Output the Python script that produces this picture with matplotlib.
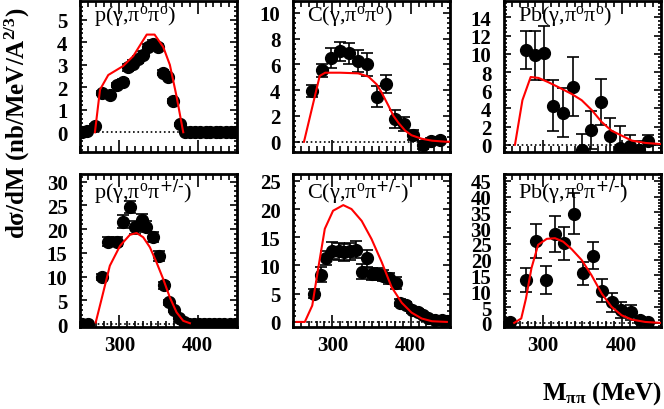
import matplotlib
matplotlib.use("Agg")
import matplotlib.pyplot as plt
from matplotlib.ticker import MultipleLocator, AutoMinorLocator

plt.rcParams["font.family"] = ["Liberation Serif", "DejaVu Serif"]
plt.rcParams["mathtext.default"] = "regular"

## data (M_pipi in MeV)
# p(g,pi0 pi0)
p00_x = [252, 259, 269, 277.5, 288, 296.5, 305, 311.5, 318, 324, 330.5, 337, 343, 349.5,
         356, 362, 368.5, 377, 383.5, 390, 397, 403, 410, 416, 423, 429, 436, 442, 448]
p00_y = [0.0, 0.05, 0.3, 1.75, 1.65, 2.1, 2.25, 2.9, 3.05, 3.25, 3.45, 3.8, 3.95, 3.8,
         2.65, 2.45, 1.4, 0.35, 0.0, 0, 0, 0, 0, 0, 0, 0, 0, 0, 0]
p00_err = [0.05, 0.05, 0.08, 0.1, 0.1, 0.1, 0.12, 0.15, 0.15, 0.15, 0.15, 0.15, 0.15, 0.15,
           0.12, 0.1, 0.1, 0.08, 0.05, 0, 0, 0, 0, 0, 0, 0, 0, 0, 0]
p00_cx = [269, 275.5, 286, 305, 318, 335, 345, 356, 364.5, 373, 381.5]
p00_cy = [0, 1.9, 2.55, 2.95, 3.4, 4.35, 4.35, 3.8, 3.0, 1.6, 0]

# C(g,pi0 pi0)
c00_x = [274.5, 286.5, 298, 310, 321.5, 333, 344.5, 356.5, 368, 380, 391.5, 402.5, 415, 426, 437.5]
c00_y = [3.95, 5.55, 6.5, 7.0, 6.85, 6.25, 6.0, 3.5, 4.45, 1.75, 1.4, 0.5, -0.25, 0.05, 0.15]
c00_err = [0.45, 0.5, 0.8, 0.75, 0.8, 0.85, 0.9, 0.8, 0.7, 0.7, 0.55, 0.4, 0.3, 0.25, 0.25]
c00_cx = [264, 284, 291, 310, 333, 346, 356.5, 363, 371.5, 378, 384.5, 393, 401, 414, 427, 444, 452]
c00_cy = [0, 5.1, 5.35, 5.35, 5.3, 5.05, 4.45, 3.8, 2.8, 2.0, 1.45, 0.85, 0.5, 0.23, 0.08, 0.0, 0.0]

# Pb(g,pi0 pi0)
pb00_x = [277.5, 289.5, 301.5, 313, 325.5, 337.5, 350, 361.5, 373.5, 385, 398, 410, 421.5, 434]
pb00_y = [10.4, 9.85, 10.1, 4.3, 3.5, 6.4, -0.55, 1.65, 4.7, 1.0, -0.4, -0.1, -0.55, 0.45]
pb00_err = [2.1, 2.7, 3.0, 2.8, 2.7, 3.2, 1.7, 2.1, 2.5, 1.9, 2.5, 1.2, 1.0, 0.6]
pb00_cx = [264, 273.5, 284, 294, 306, 319, 336, 349, 362, 374.5, 387, 400, 413, 430, 451]
pb00_cy = [0, 4.9, 7.45, 7.35, 6.9, 6.35, 5.6, 4.9, 3.8, 2.5, 1.55, 1.0, 0.45, 0.2, 0.07]

# p(g,pi0 pi+/-)
ppm_x = [252, 260, 278.5, 286, 296.5, 305, 313.5, 320, 328.5, 334.5, 343, 351, 357, 363,
         369.5, 376, 382, 388.5, 395, 401.5, 408, 414.5, 421, 427.5, 434, 440.5, 447]
ppm_y = [0, 0, 10.0, 17.4, 17.4, 21.6, 24.6, 20.4, 21.9, 20.5, 18.4, 14.4, 8.2, 4.6,
         3.0, 1.4, 0.35, 0, 0, 0, 0, 0, 0, 0, 0, 0, 0]
ppm_err = [0.3, 0.3, 0.6, 1.0, 1.0, 1.3, 1.3, 1.4, 1.3, 1.2, 1.0, 1.0, 0.7, 0.5,
           0.4, 0.3, 0.2, 0, 0, 0, 0, 0, 0, 0, 0, 0, 0]
ppm_cx = [270, 277.5, 288, 301, 313.5, 322, 330.5, 339, 347.5, 356, 364.5, 373, 381.5, 390]
ppm_cy = [0.35, 5.3, 12.3, 16.5, 18.8, 19.2, 18.3, 16.2, 13.0, 9.5, 5.6, 2.5, 0.7, 0.2]

# C(g,pi0 pi+/-)
cpm_x = [277, 285.5, 292, 300, 308.5, 315, 322.5, 330, 337.5, 344, 350, 358, 365, 372.5,
         381, 386.5, 394, 401, 409, 416, 422.5, 431, 439.5, 446]
cpm_y = [5.0, 8.4, 11.3, 12.6, 12.5, 12.35, 12.5, 12.8, 8.9, 11.3, 8.5, 8.5, 8.2, 7.75,
         6.9, 3.4, 2.95, 2.05, 1.75, 1.2, 0.7, 0.35, 0.3, 0.2]
cpm_err = [0.8, 1.4, 1.2, 1.5, 1.5, 1.5, 1.5, 1.5, 1.3, 1.5, 1.0, 1.0, 1.0, 1.0,
           1.0, 0.6, 0.6, 0.5, 0.5, 0.4, 0.3, 0.3, 0.2, 0.2]
cpm_cx = [254.5, 265, 274.5, 282, 290.5, 301, 314, 324.5, 337.5, 350, 363, 375.5, 388.5,
          401, 414, 427, 446]
cpm_cy = [0, 0, 2.9, 9.4, 16.5, 19.7, 20.7, 20.0, 17.9, 14.7, 10.6, 6.2, 3.4, 1.65, 0.6, 0.12, 0]

# Pb(g,pi0 pi+/-)
pbpm_x = [257.5, 278.5, 290.5, 303, 315, 327, 339, 351, 363, 375.5, 387, 399, 411.5, 423.5, 434]
pbpm_y = [0.3, 13.6, 26.0, 13.6, 28.2, 25.2, 34.5, 15.7, 21.3, 10.2, 6.5, 4.0, 3.3, 0.85, 0.3]
pbpm_err = [0.5, 3.9, 5.4, 4.5, 5.7, 5.3, 6.5, 3.7, 4.3, 3.6, 3.0, 2.5, 2.5, 1.0, 0.5]
pbpm_cx = [263, 272, 278, 285, 293.5, 304.5, 315, 325.5, 336, 349, 361.5, 374.5, 387, 400, 413, 430, 450]
pbpm_cy = [0, 1.4, 7.7, 17.3, 24.7, 26.6, 26.8, 25.7, 23.4, 19.9, 15.1, 9.3, 5.1, 2.4, 1.05, 0.3, 0]

titles = ["p(γ,π$^{o}$π$^{o}$)", "C(γ,π$^{o}$π$^{o}$)", "Pb(γ,π$^{o}$π$^{o}$)",
          r"p(γ,π$^{o}$π$^{\text{+/-}}$)", r"C(γ,π$^{o}$π$^{\text{+/-}}$)",
          r"Pb(γ,π$^{o}$π$^{\text{+/-}}$)"]
ylims = [(-0.88, 5.84), (-0.8, 10.9), (-0.8, 15.8), (-0.6, 31.6), (-0.9, 26.2), (-1.3, 47.1)]
ysteps = [1, 2, 2, 5, 5, 5]

points = [(p00_x, p00_y, p00_err), (c00_x, c00_y, c00_err), (pb00_x, pb00_y, pb00_err),
          (ppm_x, ppm_y, ppm_err), (cpm_x, cpm_y, cpm_err), (pbpm_x, pbpm_y, pbpm_err)]
curves = [(p00_cx, p00_cy), (c00_cx, c00_cy), (pb00_cx, pb00_cy),
          (ppm_cx, ppm_cy), (cpm_cx, cpm_cy), (pbpm_cx, pbpm_cy)]

fig = plt.figure(figsize=(6.64, 4.10), dpi=100)
lefts = [0.1205, 0.4413, 0.759]
bottoms = [0.6268, 0.2]
heights = [0.368, 0.373]
width = 0.2364

for i in range(6):
    row, col = divmod(i, 3)
    ax = fig.add_axes([lefts[col], bottoms[row], width, heights[row]])

    ax.axhline(0, color="black", ls=":", lw=1.2, zorder=1)
    x, y, e = points[i]
    ax.errorbar(x, y, yerr=e, fmt="o", color="black", ms=8.5, capsize=4,
                elinewidth=1.2, capthick=1.2, zorder=2)
    cx, cy = curves[i]
    ax.plot(cx, cy, color="red", lw=1.5, zorder=3)

    ax.set_xlim(250, 450)
    ax.set_ylim(*ylims[i])
    ax.xaxis.set_major_locator(MultipleLocator(100))
    ax.xaxis.set_minor_locator(MultipleLocator(10))
    ax.yaxis.set_major_locator(MultipleLocator(ysteps[i]))
    ax.yaxis.set_minor_locator(AutoMinorLocator(5))

    ax.tick_params(which="both", direction="in", top=True, right=True, width=1.2)
    ax.tick_params(axis="x", which="major", length=9, pad=6)
    ax.tick_params(axis="x", which="minor", length=4.5)
    ax.tick_params(axis="y", which="major", length=5, pad=9)
    ax.tick_params(axis="y", which="minor", length=2.5)
    for lab in ax.get_xticklabels() + ax.get_yticklabels():
        lab.set_fontsize(15)
        lab.set_fontweight("bold")
    if row == 0:
        ax.tick_params(axis="x", labelbottom=False)
    for sp in ax.spines.values():
        sp.set_linewidth(2)

    ax.text(0.09, 0.985, titles[i], transform=ax.transAxes, ha="left", va="top", fontsize=16)

fig.text(0.027, 0.70, "dσ/dM (nb/MeV/A$^{2/3}$)", rotation=90, ha="center", va="center",
         fontsize=18, fontweight="bold")
fig.text(0.997, 0.025, "M$_{ππ}$ (MeV)", ha="right", va="baseline",
         fontsize=18, fontweight="bold")

fig.savefig("out.png", dpi=100)
